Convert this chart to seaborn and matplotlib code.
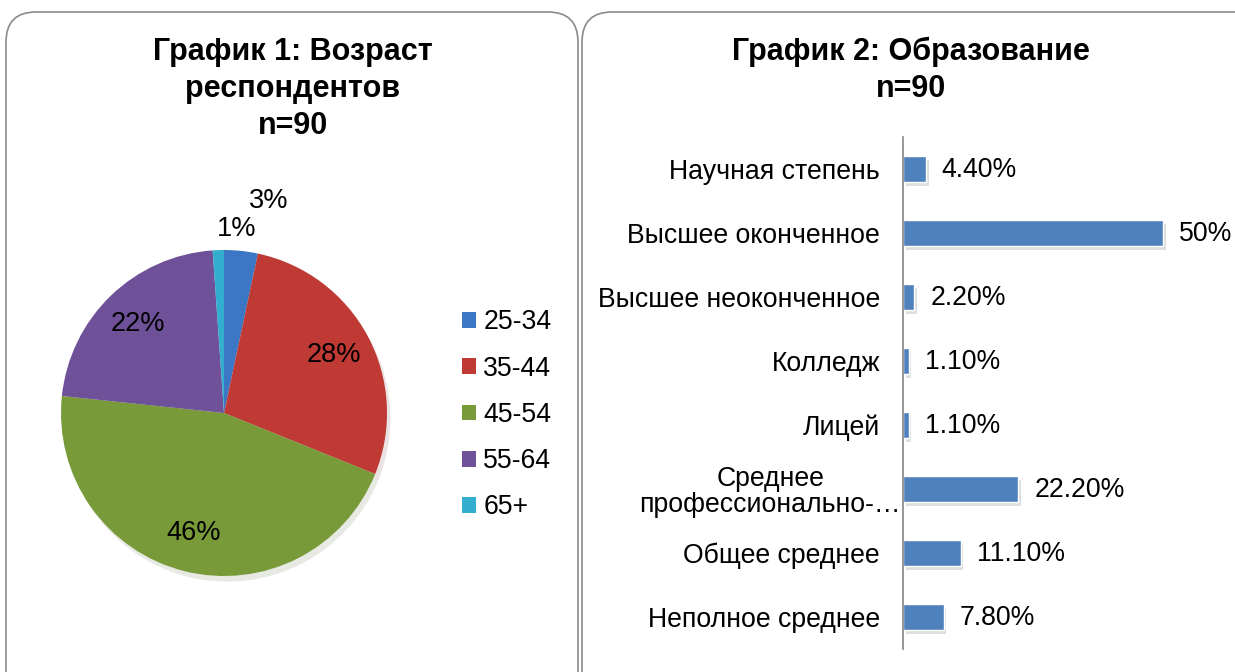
import matplotlib
matplotlib.use('Agg')
import matplotlib.pyplot as plt
import matplotlib.patheffects as pe
import matplotlib.transforms as mtransforms
from matplotlib.patches import FancyBboxPatch, Patch
import numpy as np
import pandas as pd
import seaborn as sns

# Chart 1: age of respondents (n=90)
age_groups = ['25-34', '35-44', '45-54', '55-64', '65+']
age_counts = [3, 25, 41, 20, 1]
age_colors = ['#3C77C6', '#BF3A35', '#789A38', '#6F519A', '#33AECF']

# Chart 2: education (n=90)
edu_levels = ['Научная степень', 'Высшее оконченное', 'Высшее неоконченное',
              'Колледж', 'Лицей', 'Среднее\nпрофессионально-…',
              'Общее среднее', 'Неполное среднее']
edu_share = [0.044, 0.50, 0.022, 0.011, 0.011, 0.222, 0.111, 0.078]
edu_labels = ['4.40%', '50%', '2.20%', '1.10%', '1.10%', '22.20%', '11.10%', '7.80%']

sns.set_theme(style='white')
plt.rcParams['font.family'] = ['Liberation Sans', 'DejaVu Sans']
plt.rcParams['text.color'] = 'black'
plt.rcParams['ytick.color'] = 'black'
FS = 19.2

W, H = 1235, 672
fig = plt.figure(figsize=(W / 100, H / 100), dpi=100)

# rounded panel frames (inches)
for x0, x1 in [(0.06, 5.78), (5.82, 12.70)]:
    box = FancyBboxPatch((x0, -0.5), x1 - x0, 6.60 + 0.5,
                         boxstyle='round,pad=0,rounding_size=0.3',
                         transform=fig.dpi_scale_trans, fc='none',
                         ec='#8a8a8a', lw=1.2, zorder=-5)
    fig.patches.append(box)

fig.text(293 / W, 1 - 89 / H, 'График 1: Возраст\nреспондентов\nn=90',
         ha='center', va='center', fontsize=22, fontweight='bold',
         linespacing=1.3)
fig.text(911 / W, 1 - 70 / H, 'График 2: Образование\nn=90',
         ha='center', va='center', fontsize=22, fontweight='bold',
         linespacing=1.3)

# --- pie ---
ax1 = fig.add_axes([61 / W, 1 - 576 / H, 326 / W, 326 / H])
wedges, texts, autotexts = ax1.pie(
    age_counts, colors=age_colors, startangle=90, counterclock=False,
    autopct=lambda p: f'{p:.0f}%', pctdistance=0.76,
    shadow={'ox': 0.015, 'oy': -0.025, 'alpha': 0.12, 'shade': 0.5},
    textprops={'fontsize': 19.6, 'color': 'black'},
    wedgeprops={'linewidth': 0})
for p in ax1.patches:
    p.set_clip_on(False)
# small slices get their labels outside, like Excel's best fit
outside = {0: (1.33, -6), 4: (1.13, -6)}
for i, t in enumerate(autotexts):
    if i in outside:
        r, shift = outside[i]
        w = wedges[i]
        ang = np.deg2rad((w.theta1 + w.theta2) / 2 + shift)
        t.set_position((r * np.cos(ang), r * np.sin(ang)))
ax1.set_xlim(-1, 1)
ax1.set_ylim(-1, 1)
ax1.set_aspect('equal')

handles = [Patch(color=c, lw=0) for c in age_colors]
fig.legend(handles, age_groups, loc='upper left',
           bbox_to_anchor=(449 / W, 1 - 296 / H), frameon=False,
           fontsize=FS, handlelength=0.53, handleheight=0.53,
           handletextpad=0.25, labelspacing=0.76, borderpad=0)

# --- bars ---
df = pd.DataFrame({'level': edu_levels, 'share': edu_share})
ax2 = fig.add_axes([903 / W, 1 - 649 / H, 312 / W, 512 / H])
sns.barplot(data=df, x='share', y='level', ax=ax2, color='#4F81BD',
            saturation=1, width=0.4)
for bar, lab in zip(ax2.patches, edu_labels):
    bar.set_path_effects([pe.SimplePatchShadow(offset=(2, -3), alpha=0.15),
                          pe.Normal()])
    ax2.annotate(lab, (bar.get_width(), bar.get_y() + bar.get_height() / 2),
                 xytext=(11.5, -1), textcoords='offset points',
                 ha='left', va='center', fontsize=FS, color='black',
                 annotation_clip=False)
ax2.set_xlim(0, 0.6)
ax2.set_xlabel('')
ax2.set_ylabel('')
ax2.set_xticks([])
for s in ['top', 'right', 'bottom']:
    ax2.spines[s].set_visible(False)
ax2.spines['left'].set_color('#868686')
ax2.spines['left'].set_linewidth(1.2)
ax2.tick_params(axis='y', length=0, pad=16.5, labelsize=FS)
for t in ax2.get_yticklabels():
    t.set_multialignment('center')
    t.set_linespacing(1.0)
    if '\n' in t.get_text():
        # the truncated label runs up to the axis line, as in Excel
        t.set_transform(t.get_transform() + mtransforms.ScaledTranslation(
            21 / 100, 0, fig.dpi_scale_trans))
ax2.patch.set_alpha(0)

fig.savefig('out.png', dpi=100)
